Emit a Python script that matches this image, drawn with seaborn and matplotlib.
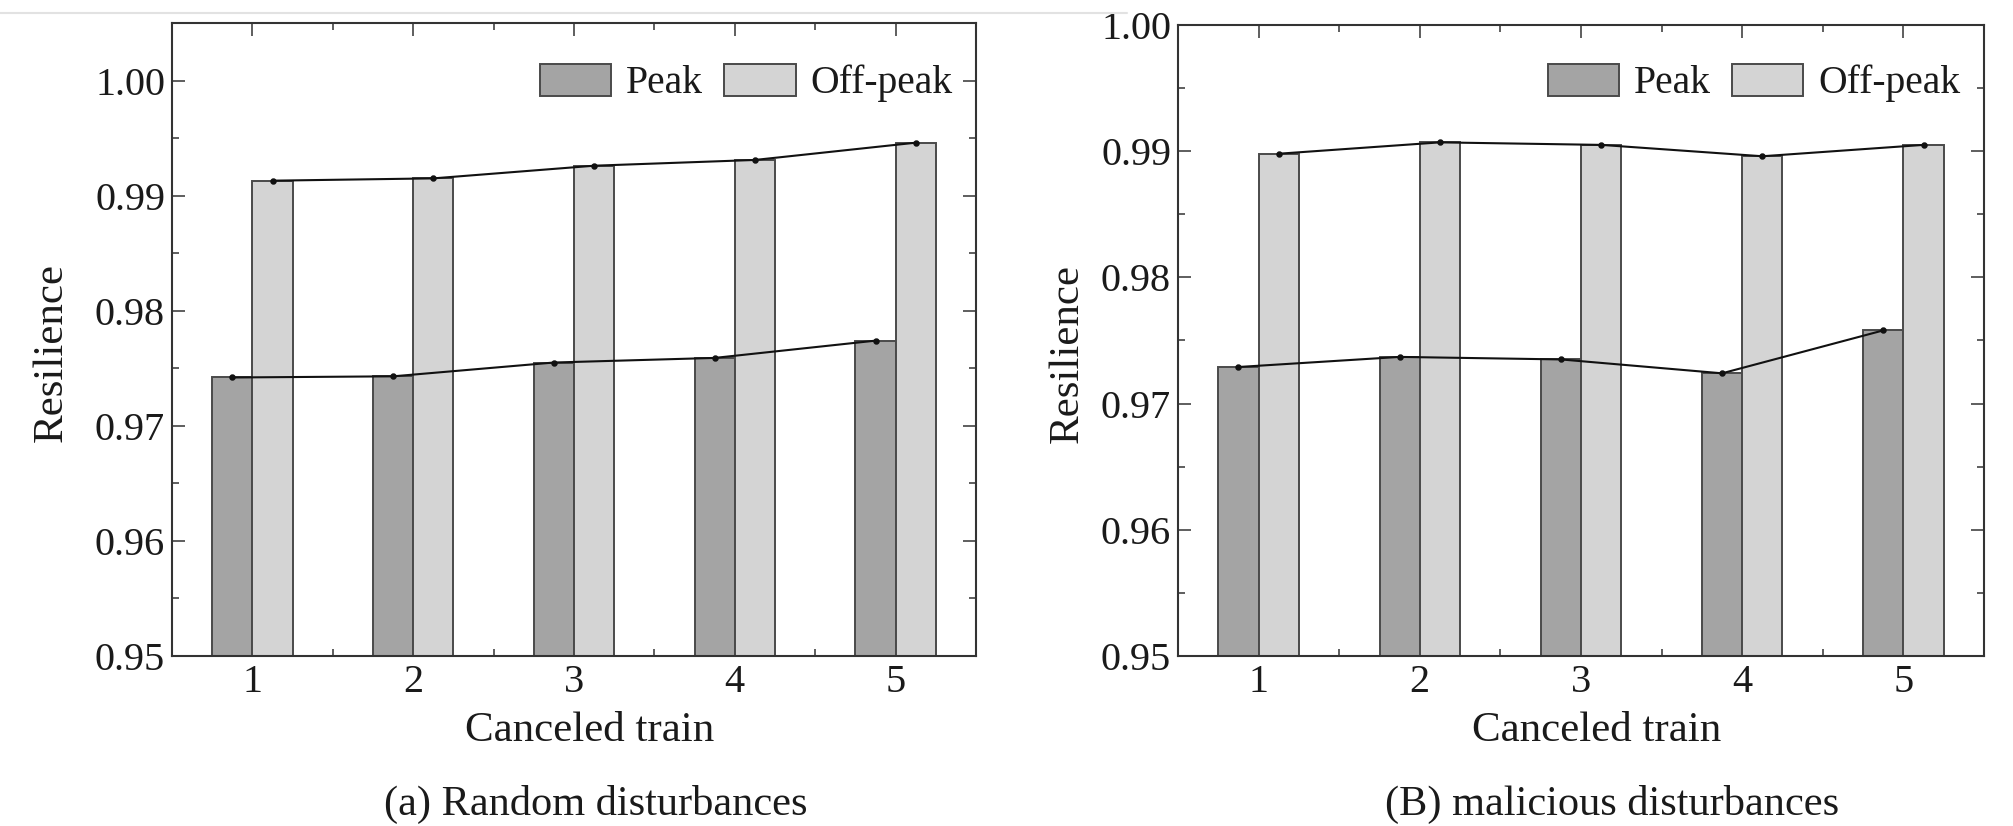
import numpy as np
import pandas as pd
import matplotlib
matplotlib.use("Agg")
import matplotlib.pyplot as plt
import matplotlib.ticker as mticker
from matplotlib.lines import Line2D
import seaborn as sns

# ---------------- data ----------------
trains = ["1", "2", "3", "4", "5"]
periods = ["Peak", "Off-peak"]

peak_random = [0.9742, 0.9743, 0.9755, 0.9759, 0.9774]
offpeak_random = [0.9913, 0.9915, 0.9926, 0.9931, 0.9946]

peak_malicious = [0.9729, 0.9737, 0.9735, 0.9724, 0.9758]
offpeak_malicious = [0.9898, 0.9907, 0.9905, 0.9896, 0.9905]

captions = ["(a) Random disturbances", "(B) malicious disturbances"]
x_label = "Canceled train"
y_label = "Resilience"
y_ticks_a = [0.95, 0.96, 0.97, 0.98, 0.99, 1.00]
y_ticks_b = [0.95, 0.96, 0.97, 0.98, 0.99, 1.00]

# ---------------- style ----------------
sns.set_theme(style="ticks")
plt.rcParams["font.family"] = ["Liberation Serif", "DejaVu Serif"]
plt.rcParams["axes.edgecolor"] = "#333333"
plt.rcParams["axes.linewidth"] = 1.5
plt.rcParams["text.color"] = "#1a1a1a"
plt.rcParams["axes.labelcolor"] = "#1a1a1a"
plt.rcParams["xtick.color"] = "#333333"
plt.rcParams["ytick.color"] = "#333333"
plt.rcParams["xtick.labelcolor"] = "#1a1a1a"
plt.rcParams["ytick.labelcolor"] = "#1a1a1a"

bar_colors = ["#a4a4a4", "#d4d4d4"]
edge_col = "#4a4a4a"

def make_df(peak, off):
    return pd.DataFrame({
        "train": trains * 2,
        "period": [periods[0]] * len(trains) + [periods[1]] * len(trains),
        "res": list(peak) + list(off),
    })

W, H = 2013, 826
fig = plt.figure(figsize=(W / 100, H / 100), dpi=100)

# axes rectangles (pixels: left, top, right, bottom)
rects = [(172, 23, 976, 656), (1178, 25, 1984, 656)]
axes = []
for (l, t, r, b) in rects:
    axes.append(fig.add_axes([l / W, 1 - b / H, (r - l) / W, (b - t) / H]))

datasets = [(peak_random, offpeak_random, (0.95, 1.005), y_ticks_a),
            (peak_malicious, offpeak_malicious, (0.95, 1.0), y_ticks_b)]

ylabel_x = [-0.150, -0.137]
caption_x = [596, 1612]

for i, (ax, (pk, op, ylim, yt)) in enumerate(zip(axes, datasets)):
    df = make_df(pk, op)
    sns.barplot(data=df, x="train", y="res", hue="period", order=trains,
                hue_order=periods, palette=bar_colors, width=0.5,
                edgecolor=edge_col, linewidth=1.4, saturation=1,
                errorbar=None, ax=ax)
    sns.pointplot(data=df, x="train", y="res", hue="period", order=trains,
                  hue_order=periods, palette=["#111111", "#111111"],
                  dodge=0.25, errorbar=None, markers="o", linestyles="-",
                  markersize=3.5, linewidth=1.5, legend=False, ax=ax)

    ax.set_xlim(-0.5, len(trains) - 0.5)
    ax.set_ylim(*ylim)
    ax.set_yticks(yt)
    ax.yaxis.set_major_formatter(mticker.FormatStrFormatter("%.2f"))
    ax.yaxis.set_minor_locator(mticker.MultipleLocator(0.005))
    ax.xaxis.set_minor_locator(mticker.FixedLocator(np.arange(len(trains) - 1) + 0.5))

    ax.tick_params(which="both", direction="in", top=True, right=True,
                   bottom=True, left=True)
    ax.tick_params(which="major", length=9.5, width=1.1, labelsize=29, pad=5)
    ax.tick_params(which="minor", length=5, width=1.1)
    ax.tick_params(axis="x", which="major", pad=6)

    ax.set_xlabel(x_label, fontsize=31)
    ax.set_ylabel(y_label, fontsize=31)
    ax.xaxis.set_label_coords(0.519, -75 / 633)
    ax.xaxis.label.set_va("center")
    ax.yaxis.set_label_coords(ylabel_x[i], 0.48)
    ax.yaxis.label.set_va("center")

    for s in ax.spines.values():
        s.set_visible(True)
        s.set_color("#333333")
        s.set_linewidth(1.5)

    leg_y = 0.905 if i == 0 else 0.908
    sns.move_legend(ax, loc="center right", bbox_to_anchor=(0.971, leg_y),
                    ncol=2, frameon=False, title=None, fontsize=28.5,
                    handlelength=1.8, handleheight=0.87, handletextpad=0.38,
                    columnspacing=0.54, borderaxespad=0, borderpad=0)
    leg = ax.get_legend()
    for h in leg.legend_handles:
        h.set_edgecolor(edge_col)
        h.set_linewidth(1.4)

    fig.text(caption_x[i] / W, 1 - 804 / H, captions[i], fontsize=30.5,
             ha="center", va="center")

# faint page rule at the very top-left (from the source screenshot)
fig.add_artist(Line2D([0, 1127 / W], [1 - 13 / H, 1 - 13 / H],
                      transform=fig.transFigure, color="#e2e2e2", lw=1.5))

fig.savefig("out.png", dpi=100, facecolor="white")
